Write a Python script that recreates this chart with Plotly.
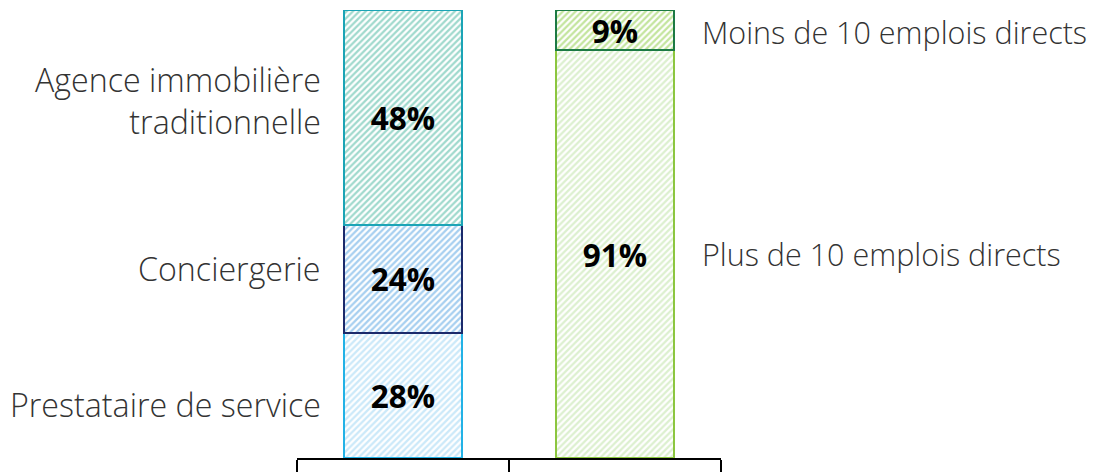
import plotly.graph_objects as go

categories = ["Type", "Emplois"]
left_names = ["Prestataire de service", "Conciergerie", "Agence immobilière<br>traditionnelle"]
left_values = [28, 24, 48]
right_names = ["Plus de 10 emplois directs", "Moins de 10 emplois directs"]
right_values = [91, 9]

left_fill = ["#CBE9F9", "#A6CFF0", "#9FD9CD"]
left_line = ["#22B2E6", "#1B2A6B", "#1BA4B6"]
right_fill = ["#DCF0CF", "#C3E59D"]
right_line = ["#8CC63F", "#1C7A44"]

# label vertical positions (data units) for side labels
left_label_y = [12.0, 42.2, 79.9]
right_label_y = [45.5, 95.1]

fig = go.Figure()

def add_bar(cat, val, fill, line):
    fig.add_trace(go.Bar(
        x=[cat], y=[val], width=0.557,
        marker=dict(color=fill, line=dict(color=line, width=2),
                    pattern=dict(shape="/", fillmode="replace", bgcolor="white",
                                 fgcolor=fill, size=4.5, solidity=0.5)),
        text=[f"{val}%"], textposition="inside", insidetextanchor="middle",
        constraintext="none", textangle=0,
        textfont=dict(family="Open Sans", size=31.5, color="black", weight="bold"),
        showlegend=False, hoverinfo="skip",
    ))

for v, f, l in zip(left_values, left_fill, left_line):
    add_bar(categories[0], v, f, l)
for v, f, l in zip(right_values, right_fill, right_line):
    add_bar(categories[1], v, f, l)

annots = []
for name, y in zip(left_names, left_label_y):
    annots.append(dict(x=0.062, xref="paper", y=y, yref="y", text=name, showarrow=False,
                       xanchor="right", yanchor="middle", align="right",
                       font=dict(family="Open Sans", size=32.2, color="#333333", weight=300)))
for name, y in zip(right_names, right_label_y):
    annots.append(dict(x=0.95, xref="paper", y=y, yref="y", text=name, showarrow=False,
                       xanchor="left", yanchor="middle", align="left",
                       font=dict(family="Open Sans", size=30.5, color="#333333", weight=300)))

fig.update_layout(
    width=1101, height=464,
    margin=dict(l=289, r=388, t=2, b=9),
    barmode="stack",
    plot_bgcolor="white", paper_bgcolor="white",
    annotations=annots,
    xaxis=dict(range=[-0.5, 1.5], showline=True, linecolor="black", linewidth=1.5,
               ticks="outside", tickson="boundaries", ticklen=12, tickwidth=1.5,
               tickcolor="black", showticklabels=False, showgrid=False, zeroline=False),
    yaxis=dict(range=[0, 100], visible=False, showgrid=False, zeroline=False),
)

fig.write_html("out.html")
